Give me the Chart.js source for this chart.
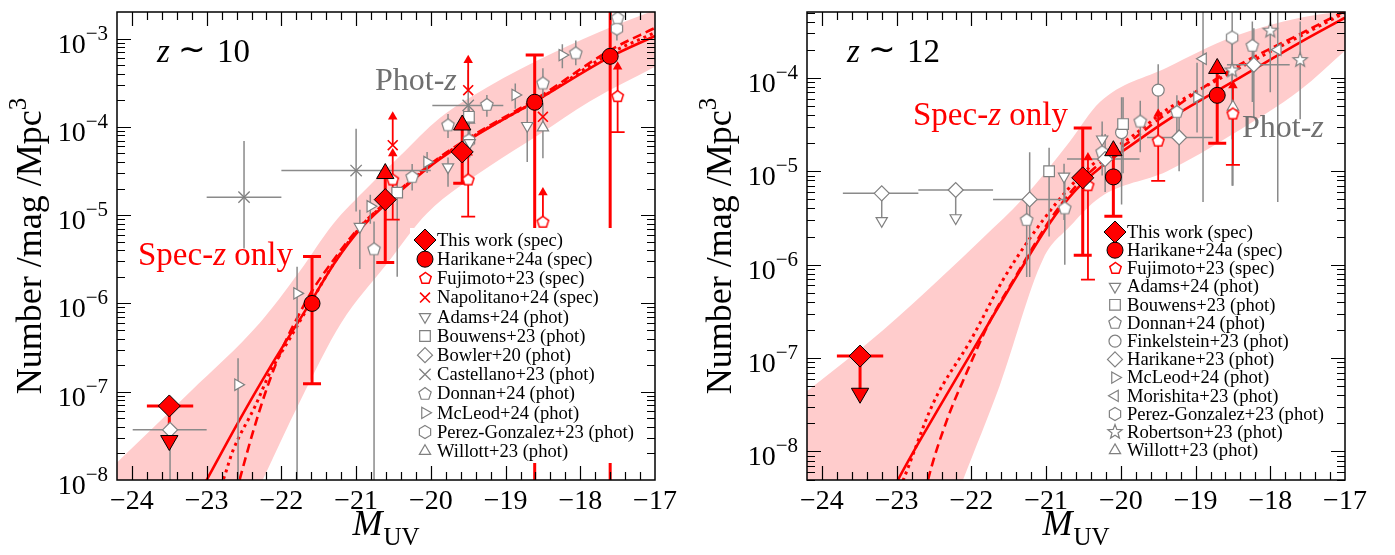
<!DOCTYPE html>
<html><head><meta charset="utf-8">
<script src="https://cdn.jsdelivr.net/npm/chart.js@4/dist/chart.umd.min.js"></script>
<style>
html,body{margin:0;padding:0;background:#fff;}
#wrap{position:relative;width:1395px;height:555px;overflow:hidden;background:#fff;}
canvas{position:absolute;top:0;}
#c1{left:0;} #c2{left:690px;}
</style></head><body>
<div id="wrap"><canvas id="c1" width="690" height="555"></canvas><canvas id="c2" width="705" height="555"></canvas></div>
<script>
// ================= DATA =================
const xTickVals = [-24, -23, -22, -21, -20, -19, -18, -17];
const xTickLabels = ['\u221224','\u221223','\u221222','\u221221','\u221220','\u221219','\u221218','\u221217'];
const z10_yTickExps = [-8, -7, -6, -5, -4, -3];
const z12_yTickExps = [-8, -7, -6, -5, -4];
const z10_xRange = [-24.2, -17];
const z10_yRange = [1e-8, 2.0e-3];
const z12_xRange = [-24.2, -17];
const z12_yRange = [4.95e-9, 5.07e-4];

// ---- z~10 fits: [M_UV, phi]
const z10_bandUp = [[-24.2,1.58e-8],[-23.22,1.0e-7],[-22.29,6.0e-7],[-21.75,2.34e-6],[-21.31,7.9e-6],[-20.85,2.04e-5],[-20.41,4.7e-5],[-19.88,1.26e-4],[-19.25,2.8e-4],[-18.36,6.9e-4],[-17.56,1.38e-3],[-17.0,2.1e-3]];
const z10_bandLo = [[-24.2,1e-11],[-22.8,1e-9],[-22.25,1.0e-8],[-21.75,7.8e-8],[-21.20,6.0e-7],[-20.59,2.8e-6],[-20.05,1.05e-5],[-19.21,3.6e-5],[-18.54,8.3e-5],[-17.87,1.95e-4],[-17.0,4.8e-4]];
const z10_solid = [[-23.2,4.9e-9],[-23.0,1.0e-8],[-22.58,4.47e-8],[-22.15,1.9e-7],[-21.62,1.0e-6],[-21.28,2.95e-6],[-20.95,6.9e-6],[-20.61,1.32e-5],[-19.97,3.8e-5],[-19.48,7.2e-5],[-18.58,2.0e-4],[-17.60,6.2e-4],[-17.0,1.07e-3]];
const z10_dashed = [[-22.70,3.5e-9],[-22.56,1.0e-8],[-22.38,3.5e-8],[-22.19,1.12e-7],[-21.98,3.2e-7],[-21.75,7.9e-7],[-21.62,1.26e-6],[-21.28,3.3e-6],[-20.95,7.4e-6],[-20.61,1.38e-5],[-19.97,4.0e-5],[-19.48,7.6e-5],[-18.58,2.1e-4],[-17.60,7.4e-4],[-17.0,1.32e-3]];
const z10_dotted = [[-22.90,6.3e-9],[-22.78,1.0e-8],[-22.65,2.14e-8],[-22.35,6.9e-8],[-22.15,1.66e-7],[-21.88,4.1e-7],[-21.62,9.8e-7],[-21.28,3.0e-6],[-20.95,7.2e-6],[-20.61,1.35e-5],[-19.97,3.9e-5],[-19.48,7.4e-5],[-18.58,2.0e-4],[-17.60,6.8e-4],[-17.0,1.17e-3]];

// ---- z~10 points: [M, phi, phiLo, phiHi, Mlo, Mhi] ; limits: [M, phiFrom, phiTo]
const z10_thisWork = [[-23.50,6.9e-8,null,null,-23.80,-23.18],[-20.61,1.5e-5,2.9e-6,null],[-19.58,5.2e-5,2.3e-5,null]];
const z10_thisWorkLim = [[-23.50,6.9e-8,2.8e-8],[-20.61,1.5e-5,2.96e-5],[-19.58,5.2e-5,1.05e-4]];
const z10_harikane24 = [[-21.59,1.0e-6,1.23e-7,3.4e-6],[-18.61,1.9e-4,1e-12,6.5e-4],[-17.60,6.3e-4,1e-12,1e-1]];
const z10_fujimoto = [[-20.51,2.5e-5,8.9e-6,null],[-19.50,2.5e-5,9.6e-6,null],[-18.50,8.3e-6,null,null],[-17.50,2.2e-4,8.7e-5,null]];
const z10_fujimotoLim = [[-20.51,2.5e-5,5.0e-5],[-19.50,2.5e-5,5.1e-5],[-18.50,8.3e-6,1.8e-5],[-17.50,2.2e-4,4.8e-4]];
const z10_napolitano = [[-20.51,6.2e-5],[-19.50,2.6e-4],[-18.50,1.3e-4]];
const z10_napolitanoLim = [[-20.51,6.2e-5,1.3e-4],[-19.50,2.6e-4,5.7e-4]];
const z10_adams = [[-20.95,7.4e-6,2.45e-6,1.15e-5],[-19.77,3.5e-5,2.1e-5,4.5e-5],[-19.48,6.6e-5,4.5e-5,9.5e-5],[-18.71,1.03e-4,4.0e-5,1.7e-4]];
const z10_bouwens = [[-20.45,1.8e-5,2.0e-6,2.6e-5],[-19.49,1.3e-4,8.0e-5,1.8e-4]];
const z10_bowler = [[-23.49,3.7e-8,1e-12,null,-23.99,-23.0]];
const z10_castellano = [[-22.50,1.6e-5,4.2e-6,6.9e-5,-23.0,-22.0],[-21.00,3.2e-5,1.1e-5,9.5e-5,-22.0,-20.0],[-19.50,1.75e-4,7.2e-5,4.4e-4,-19.98,-19.03]];
const z10_donnan = [[-20.76,4.1e-6,1e-12,8.5e-6],[-20.25,2.7e-5,1.9e-5,3.8e-5],[-19.77,1.04e-4,7.5e-5,1.4e-4],[-19.25,1.77e-4,1.3e-4,2.3e-4],[-18.50,3.1e-4,2.2e-4,4.6e-4],[-18.06,6.8e-4,5.0e-4,9.5e-4],[-17.50,1.7e-3,1.3e-3,2.5e-3]];
const z10_mcleod = [[-22.58,1.2e-7,1e-12,2.4e-7],[-21.79,1.3e-6,1e-12,2.6e-6],[-20.81,1.26e-5,8.0e-6,1.7e-5],[-20.05,4.0e-5,3.0e-5,5.2e-5],[-18.87,2.3e-4,1.6e-4,3.1e-4],[-18.24,6.5e-4,4.6e-4,8.6e-4]];
const z10_perez = [[-19.49,7.0e-5,5.0e-5,1.0e-4],[-17.51,1.3e-3,9.5e-4,1.8e-3]];
const z10_willott = [[-19.49,1.2e-4,7.0e-5,1.6e-4],[-18.50,9.8e-5,4.4e-5,1.86e-4]];

// ---- z~12 fits
const z12_bandUp = [[-24.2,4.4e-8],[-23.18,2.0e-7],[-22.42,7.1e-7],[-21.84,1.95e-6],[-21.31,5.1e-6],[-20.68,2.1e-5],[-20.28,5.5e-5],[-19.38,1.29e-4],[-18.50,2.75e-4],[-17.60,4.4e-4],[-17.0,5.2e-4]];
const z12_bandLo = [[-24.2,1e-11],[-22.9,1e-10],[-22.11,5.0e-9],[-21.62,5.1e-8],[-21.04,1.15e-6],[-20.68,2.57e-6],[-20.28,5.25e-6],[-19.38,1.0e-5],[-18.50,2.5e-5],[-17.60,7.4e-5],[-17.0,1.95e-4]];
const z12_solid = [[-23.2,2.2e-9],[-22.98,5.0e-9],[-22.46,2.7e-8],[-22.02,1.07e-7],[-21.39,7.6e-7],[-20.95,2.8e-6],[-20.61,6.2e-6],[-20.24,1.15e-5],[-19.84,1.95e-5],[-19.38,3.5e-5],[-18.50,9.1e-5],[-17.60,2.4e-4],[-17.0,4.4e-4]];
const z12_dashed = [[-22.70,1.8e-9],[-22.58,5.0e-9],[-22.33,2.14e-8],[-22.06,7.1e-8],[-21.75,2.5e-7],[-21.39,7.9e-7],[-20.95,3.0e-6],[-20.61,6.8e-6],[-20.24,1.29e-5],[-19.84,2.2e-5],[-19.38,4.2e-5],[-18.50,1.26e-4],[-17.60,2.95e-4],[-17.0,5.2e-4]];
const z12_dotted = [[-23.10,2.2e-9],[-22.91,5.0e-9],[-22.51,3.3e-8],[-22.0,1.6e-7],[-21.58,6.8e-7],[-21.22,1.9e-6],[-20.86,4.6e-6],[-20.55,8.8e-6],[-20.24,1.45e-5],[-19.84,2.4e-5],[-19.38,4.6e-5],[-18.50,1.17e-4],[-17.60,2.8e-4],[-17.0,5.0e-4]];

// ---- z~12 points
const z12_thisWork = [[-23.49,1.05e-7,null,null,-23.80,-23.18],[-20.51,8.5e-6,1.26e-6,2.9e-5]];
const z12_thisWorkLim = [[-23.49,1.05e-7,4.2e-8]];
const z12_harikane24 = [[-20.10,8.7e-6,3.3e-6,null],[-18.71,6.5e-5,2.0e-5,null]];
const z12_harikane24Lim = [[-20.10,8.7e-6,1.66e-5],[-18.71,6.5e-5,1.26e-4]];
const z12_fujimoto = [[-20.44,7.0e-6,6.9e-7,null],[-19.50,2.1e-5,7.9e-6,null],[-18.50,4.1e-5,1.17e-5,null]];
const z12_fujimotoLim = [[-20.44,7.0e-6,1.4e-5],[-19.50,2.1e-5,4.1e-5],[-18.50,4.1e-5,8.3e-5]];
const z12_harikane23 = [[-23.20,5.8e-6,null,null,-23.72,-22.71],[-22.21,6.3e-6,null,null,-22.71,-21.71],[-21.22,5.0e-6,7.4e-7,1.6e-5,-21.71,-20.72],[-20.21,1.35e-5,6.0e-6,2.5e-5,-20.72,-19.75],[-19.22,2.3e-5,1.0e-5,4.9e-5,-19.65,-18.77],[-18.22,1.38e-4,3.8e-5,3.4e-4,-18.58,-17.74]];
const z12_harikane23Lim = [[-23.20,5.8e-6,2.95e-6],[-22.21,6.3e-6,3.16e-6]];
const z12_adams = [[-20.76,8.8e-6,3.0e-6,1.2e-5],[-20.25,2.2e-5,1.2e-5,3.4e-5]];
const z12_bouwens = [[-20.96,1.0e-5,2.0e-6,1.78e-5],[-19.97,3.2e-5,9.5e-6,6.2e-5]];
const z12_donnan = [[-21.26,3.0e-6,7.4e-7,5.1e-6],[-20.75,4.0e-6,1.0e-6,8.9e-6],[-20.25,1.6e-5,9.0e-6,2.5e-5],[-19.74,3.4e-5,1.6e-5,5.7e-5],[-19.25,4.3e-5,2.6e-5,6.5e-5],[-18.24,2.2e-4,5.5e-5,4.0e-4]];
const z12_finkelstein = [[-19.99,2.6e-5,4.4e-6,6.2e-5],[-19.50,7.4e-5,2.2e-5,1.4e-4]];
const z12_mcleod = [[-18.98,6.2e-5,2.6e-5,1.45e-4]];
const z12_morishita = [[-18.90,1.6e-4,4.7e-6,1e-2],[-17.90,2.0e-4,4.7e-6,1e-2]];
const z12_perez = [[-18.51,2.7e-4,2.2e-5,1e-2]];
const z12_robertson = [[-18.51,1.2e-4,7.0e-6,2.4e-4],[-18.00,3.2e-4,7.0e-5,1e-2],[-17.60,1.55e-4,3.6e-5,4.0e-4]];
const z12_willott = [[-18.50,4.9e-5,7.0e-6,9.0e-5]];

const z10_legendLabels = ['This work (spec)','Harikane+24a (spec)','Fujimoto+23 (spec)','Napolitano+24 (spec)','Adams+24 (phot)','Bouwens+23 (phot)','Bowler+20 (phot)','Castellano+23 (phot)','Donnan+24 (phot)','McLeod+24 (phot)','Perez-Gonzalez+23 (phot)','Willott+23 (phot)'];
const z12_legendLabels = ['This work (spec)','Harikane+24a (spec)','Fujimoto+23 (spec)','Adams+24 (phot)','Bouwens+23 (phot)','Donnan+24 (phot)','Finkelstein+23 (phot)','Harikane+23 (phot)','McLeod+24 (phot)','Morishita+23 (phot)','Perez-Gonzalez+23 (phot)','Robertson+23 (phot)','Willott+23 (phot)'];

// ================= STYLE =================
const FONT = "'Liberation Serif','Times New Roman',Times,serif";
const RED = '#ff0000', GRAY = '#808080', GLINE = '#8a8a8a', BAND = '#ffcccc';
function fnt(s, it) { return (it ? 'italic ' : '') + s + 'px ' + FONT; }

function shapeCanvas(kind, r, fill, stroke, lw) {
  const size = Math.ceil(2 * r + 2 * lw + 2);
  const c = document.createElement('canvas'); c.width = size; c.height = size;
  const g = c.getContext('2d'); const cx = size / 2, cy = size / 2;
  g.beginPath();
  const n = kind === 'pentagon' ? 5 : kind === 'hexagon' ? 6 : 10;
  for (let i = 0; i < n; i++) {
    const a = -Math.PI / 2 + i * 2 * Math.PI / n;
    const rr = (kind === 'star' && i % 2 === 1) ? r * 0.42 : r;
    const X = cx + rr * Math.cos(a), Y = cy + rr * Math.sin(a);
    if (i) g.lineTo(X, Y); else g.moveTo(X, Y);
  }
  g.closePath(); g.fillStyle = fill; g.fill();
  g.lineWidth = lw; g.strokeStyle = stroke; g.lineJoin = 'miter'; g.stroke();
  return c;
}

const ST = {
  thisWork: {shape:'rectRot', r:11, fill:RED, stroke:'#000', lw:1},
  harikane24: {shape:'circle', r:8, fill:RED, stroke:'#000', lw:1},
  limBig: {shape:'triangle', r:10, fill:RED, stroke:'#000', lw:1},
  fujimoto: {shape:shapeCanvas('pentagon', 6, '#fff', RED, 1.5), r:6},
  napolitano: {shape:'crossRot', r:7, fill:RED, stroke:RED, lw:1.6},
  arrowRed: {shape:'triangle', r:5.5, fill:RED, stroke:RED, lw:0},
  adams: {shape:'triangle', rot:180, r:6.5, fill:'#fff', stroke:GRAY, lw:1.2},
  bouwens: {shape:'rect', r:7.5, fill:'#fff', stroke:GRAY, lw:1.2},
  bowler: {shape:'rectRot', r:7.5, fill:'#fff', stroke:GRAY, lw:1.2},
  castellano: {shape:'crossRot', r:8, fill:GRAY, stroke:GRAY, lw:1.3},
  donnan: {shape:shapeCanvas('pentagon', 6.5, '#fff', GRAY, 1.2), r:6.5},
  mcleod: {shape:'triangle', rot:90, r:6.5, fill:'#fff', stroke:GRAY, lw:1.2},
  morishita: {shape:'triangle', rot:270, r:6.5, fill:'#fff', stroke:GRAY, lw:1.2},
  perez: {shape:shapeCanvas('hexagon', 6.5, '#fff', GRAY, 1.2), r:6.5},
  finkelstein: {shape:'circle', r:6, fill:'#fff', stroke:GRAY, lw:1.2},
  robertson: {shape:shapeCanvas('star', 7.5, '#fff', GRAY, 1.2), r:7.5},
  willott: {shape:'triangle', rot:0, r:6.5, fill:'#fff', stroke:GRAY, lw:1.2},
  limGray: {shape:'triangle', r:6.5, fill:'#fff', stroke:GRAY, lw:1.2}
};
const ERR = {
  red: {color:RED, lw:3, cap:9},
  fuji: {color:RED, lw:1.8, cap:7},
  gray: {color:GLINE, lw:1.5, cap:0},
  limRed: {color:RED, lw:3},
  limThin: {color:RED, lw:1.8},
  limGray: {color:GLINE, lw:1.5}
};

// ================= BUILDERS =================
function markerDS(rows, st, err) {
  return { data: rows.map(r => ({x:r[0], y:r[1]})), showLine:false,
    pointStyle: st.shape, pointRadius: st.r, pointHoverRadius: st.r,
    pointBackgroundColor: st.fill || '#fff', pointBorderColor: st.stroke || '#000',
    pointBorderWidth: st.lw || 0, pointRotation: st.rot || 0, rows: rows, err: err };
}
function limDS(lim, st, err) {
  return { data: lim.map(r => ({x:r[0], y:r[2]})), showLine:false,
    pointStyle: st.shape, pointRadius: st.r, pointHoverRadius: st.r,
    pointBackgroundColor: st.fill, pointBorderColor: st.stroke, pointBorderWidth: st.lw,
    pointRotation: lim.map(r => r[2] < r[1] ? 180 : 0), limRows: lim, limErr: err };
}
function curveDS(pts, opt) {
  return Object.assign({ data: pts.map(p => ({x:p[0], y:p[1]})), pointRadius:0, pointHoverRadius:0,
    borderColor: RED, borderWidth: 2.6, fill:false, cubicInterpolationMode:'monotone' }, opt);
}

function drawErrors(chart) {
  const ctx = chart.ctx, a = chart.chartArea, xs = chart.scales.x, ys = chart.scales.y;
  ctx.save();
  ctx.beginPath(); ctx.rect(a.left, a.top, a.right - a.left, a.bottom - a.top); ctx.clip();
  ctx.lineCap = 'butt';
  const dss = chart.data.datasets;
  for (let i = dss.length - 1; i >= 0; i--) {
    const ds = dss[i];
    if (ds.rows && ds.err) {
      const e = ds.err; ctx.strokeStyle = e.color; ctx.lineWidth = e.lw;
      ds.rows.forEach(r => {
        const X = xs.getPixelForValue(r[0]), Y = ys.getPixelForValue(r[1]);
        ctx.beginPath();
        [r[2], r[3]].forEach(v => {
          if (v == null) return;
          const Yv = ys.getPixelForValue(v);
          ctx.moveTo(X, Y); ctx.lineTo(X, Yv);
          if (e.cap) { ctx.moveTo(X - e.cap, Yv); ctx.lineTo(X + e.cap, Yv); }
        });
        if (r[4] != null && r[5] != null) {
          ctx.moveTo(xs.getPixelForValue(r[4]), Y); ctx.lineTo(xs.getPixelForValue(r[5]), Y);
        }
        ctx.stroke();
      });
    }
    if (ds.limRows && ds.limErr) {
      const e = ds.limErr; ctx.strokeStyle = e.color; ctx.lineWidth = e.lw;
      ds.limRows.forEach(r => {
        const X = xs.getPixelForValue(r[0]);
        ctx.beginPath(); ctx.moveTo(X, ys.getPixelForValue(r[1])); ctx.lineTo(X, ys.getPixelForValue(r[2])); ctx.stroke();
      });
    }
  }
  ctx.restore();
}

function drawMarker(ctx, st, x, y) {
  if (typeof st.shape !== 'string') {
    ctx.drawImage(st.shape, Math.round(x - st.shape.width / 2), Math.round(y - st.shape.height / 2));
    return;
  }
  const r = st.r; ctx.save(); ctx.beginPath();
  if (st.shape === 'circle') ctx.arc(x, y, r, 0, 2 * Math.PI);
  else if (st.shape === 'triangle') {
    let a = (st.rot || 0) * Math.PI / 180;
    for (let i = 0; i < 3; i++) { const X = x + Math.sin(a) * r, Y = y - Math.cos(a) * r; if (i) ctx.lineTo(X, Y); else ctx.moveTo(X, Y); a += 2 * Math.PI / 3; }
    ctx.closePath();
  } else if (st.shape === 'rect') { const s = r * Math.SQRT1_2; ctx.rect(x - s, y - s, 2 * s, 2 * s); }
  else if (st.shape === 'rectRot') { ctx.moveTo(x, y - r); ctx.lineTo(x + r, y); ctx.lineTo(x, y + r); ctx.lineTo(x - r, y); ctx.closePath(); }
  else if (st.shape === 'crossRot') { const d = r * Math.SQRT1_2; ctx.moveTo(x - d, y - d); ctx.lineTo(x + d, y + d); ctx.moveTo(x - d, y + d); ctx.lineTo(x + d, y - d); }
  if (st.shape !== 'crossRot') { ctx.fillStyle = st.fill; ctx.fill(); }
  if (st.lw > 0) { ctx.lineWidth = st.lw; ctx.strokeStyle = st.stroke; ctx.stroke(); }
  ctx.restore();
}

function drawParts(ctx, x, y, parts) {
  let cx = x;
  parts.forEach(p => {
    ctx.font = fnt(p.s, p.i); ctx.fillStyle = p.c || '#000';
    ctx.textAlign = 'left'; ctx.textBaseline = 'alphabetic';
    ctx.fillText(p.t, cx, y + (p.dy || 0));
    cx += ctx.measureText(p.t).width + (p.gap || 0);
  });
  return cx - x;
}
function partsWidth(ctx, parts) {
  let w = 0; parts.forEach(p => { ctx.font = fnt(p.s, p.i); w += ctx.measureText(p.t).width + (p.gap || 0); }); return w;
}

function makePlugin(P) {
  return {
    id: 'panel' + P.id,
    afterDatasetDraw(chart, args) {
      if (chart.data.datasets[args.index].errHook) drawErrors(chart);
    },
    afterDatasetsDraw(chart) {
      const ctx = chart.ctx, L = P.legend;
      ctx.save();
      ctx.fillStyle = '#fff'; ctx.fillRect(L.box[0], L.box[1], L.box[2], L.box[3]);
      L.labels.forEach((lab, i) => {
        const y = L.y0 + i * L.dy;
        drawMarker(ctx, L.styles[i], L.mx, y);
        ctx.font = fnt(18.6); ctx.fillStyle = '#000'; ctx.textAlign = 'left'; ctx.textBaseline = 'middle';
        ctx.fillText(lab, L.tx, y + 1);
      });
      ctx.restore();
    },
    afterDraw(chart) {
      const ctx = chart.ctx, a = chart.chartArea, xs = chart.scales.x, ys = chart.scales.y;
      ctx.save();
      // frame
      ctx.strokeStyle = '#000'; ctx.lineWidth = 1.5;
      ctx.strokeRect(a.left, a.top, a.right - a.left, a.bottom - a.top);
      // ticks
      ctx.lineWidth = 1.2; ctx.beginPath();
      const MAJ = 14, MIN = 8;
      for (let k = Math.ceil(xs.min * 5); k <= Math.floor(xs.max * 5); k++) {
        const v = k / 5; if (Math.abs(v - xs.min) < 1e-6 || Math.abs(v - xs.max) < 1e-6) continue;
        const X = Math.round(xs.getPixelForValue(v)) + 0.5, len = (k % 5 === 0) ? MAJ : MIN;
        ctx.moveTo(X, a.bottom); ctx.lineTo(X, a.bottom - len);
        ctx.moveTo(X, a.top); ctx.lineTo(X, a.top + len);
      }
      const e0 = Math.floor(Math.log10(ys.min)), e1 = Math.ceil(Math.log10(ys.max));
      for (let e = e0; e <= e1; e++) for (let m = 1; m <= 9; m++) {
        const v = m * Math.pow(10, e); if (v <= ys.min * 1.0001 || v >= ys.max * 0.9999) continue;
        const Y = Math.round(ys.getPixelForValue(v)) + 0.5, len = m === 1 ? MAJ : MIN;
        ctx.moveTo(a.left, Y); ctx.lineTo(a.left + len, Y);
        ctx.moveTo(a.right, Y); ctx.lineTo(a.right - len, Y);
      }
      ctx.stroke();
      // x tick labels
      ctx.fillStyle = '#000'; ctx.font = fnt(28); ctx.textAlign = 'center'; ctx.textBaseline = 'alphabetic';
      xTickVals.forEach((v, i) => ctx.fillText(xTickLabels[i], xs.getPixelForValue(v), a.bottom + 29));
      // y tick labels
      P.yExps.forEach(e => {
        const Y = ys.getPixelForValue(Math.pow(10, e));
        const parts = [{t:'10', s:28}, {t:'\u2212' + Math.abs(e), s:21, dy:-13}];
        const w = partsWidth(ctx, parts);
        drawParts(ctx, a.left - 9 - w, Y + 14, parts);
      });
      // y title
      ctx.save(); ctx.translate(41, (a.top + a.bottom) / 2); ctx.rotate(-Math.PI / 2);
      const yt = [{t:'Number /mag /Mpc', s:36}, {t:'3', s:25, dy:-15}];
      drawParts(ctx, -partsWidth(ctx, yt) / 2, 0, yt);
      ctx.restore();
      // x title
      const xt = [{t:'M', s:36, i:true, gap:1}, {t:'UV', s:25, dy:10}];
      drawParts(ctx, (a.left + a.right) / 2 - partsWidth(ctx, xt) / 2, 535, xt);
      // panel title z ~ N
      const zx = a.left + 40;
      ctx.font = fnt(33, true); ctx.fillStyle = '#000'; ctx.textAlign = 'left'; ctx.fillText('z', zx, 62);
      ctx.font = fnt(33); ctx.textAlign = 'center'; ctx.fillText('\u223c', zx + 35, 60);
      ctx.textAlign = 'left'; ctx.fillText(P.zText, zx + 60, 62);
      // annotations
      P.notes.forEach(n => drawParts(ctx, n.x, n.y, n.parts));
      ctx.restore();
    }
  };
}

function specParts() { return [{t:'Spec-', s:33, c:RED}, {t:'z', s:33, i:true, c:RED}, {t:' only', s:33, c:RED}]; }
function photParts() { return [{t:'Phot-', s:32, c:'#707070'}, {t:'z', s:32, i:true, c:'#707070'}]; }

function buildChart(id, W, xr, yr, datasets, P) {
  return new Chart(document.getElementById(id), {
    type: 'line',
    data: { datasets: datasets },
    options: {
      responsive: false, animation: false, events: [], devicePixelRatio: 1,
      layout: { padding: { left: 117, right: W - 655, top: 4, bottom: 75 } },
      scales: {
        x: { type: 'linear', min: xr[0], max: xr[1], display: false },
        y: { type: 'logarithmic', min: yr[0], max: yr[1], display: false }
      },
      plugins: { legend: { display: false }, tooltip: { enabled: false } }
    },
    plugins: [makePlugin(P)]
  });
}

// ================= PANEL z~10 =================
const ds10 = [
  markerDS(z10_thisWork, ST.thisWork, ERR.red),
  limDS(z10_thisWorkLim, ST.limBig, ERR.limRed),
  markerDS(z10_harikane24, ST.harikane24, ERR.red),
  markerDS(z10_fujimoto, ST.fujimoto, ERR.fuji),
  limDS(z10_fujimotoLim, ST.arrowRed, ERR.limThin),
  markerDS(z10_napolitano, ST.napolitano, ERR.fuji),
  limDS(z10_napolitanoLim, ST.arrowRed, ERR.limThin),
  markerDS(z10_castellano, ST.castellano, ERR.gray),
  markerDS(z10_bowler, ST.bowler, ERR.gray),
  markerDS(z10_adams, ST.adams, ERR.gray),
  markerDS(z10_bouwens, ST.bouwens, ERR.gray),
  markerDS(z10_donnan, ST.donnan, ERR.gray),
  markerDS(z10_mcleod, ST.mcleod, ERR.gray),
  markerDS(z10_perez, ST.perez, ERR.gray),
  markerDS(z10_willott, ST.willott, ERR.gray),
  curveDS(z10_solid, { errHook: true }),
  curveDS(z10_dashed, { borderDash: [9, 5] }),
  curveDS(z10_dotted, { borderDash: [3, 4], borderWidth: 3 }),
  curveDS(z10_bandUp, { borderWidth: 0, borderColor: 'rgba(0,0,0,0)', backgroundColor: BAND, fill: '+1' }),
  curveDS(z10_bandLo, { borderWidth: 0, borderColor: 'rgba(0,0,0,0)' })
];
buildChart('c1', 690, z10_xRange, z10_yRange, ds10, {
  id: 10, yExps: z10_yTickExps, zText: '10',
  legend: { box: [410, 228, 240, 235], mx: 425, tx: 437, y0: 240, dy: 19.2, labels: z10_legendLabels,
    styles: [ST.thisWork, ST.harikane24, ST.fujimoto, ST.napolitano, ST.adams, ST.bouwens, ST.bowler, ST.castellano, ST.donnan, ST.mcleod, ST.perez, ST.willott] },
  notes: [ {x:138, y:265, parts: specParts()}, {x:375, y:90, parts: photParts()} ]
});

// ================= PANEL z~12 =================
const ds12 = [
  markerDS(z12_thisWork, ST.thisWork, ERR.red),
  limDS(z12_thisWorkLim, ST.limBig, ERR.limRed),
  markerDS(z12_harikane24, ST.harikane24, ERR.red),
  limDS(z12_harikane24Lim, ST.limBig, ERR.limRed),
  markerDS(z12_fujimoto, ST.fujimoto, ERR.fuji),
  limDS(z12_fujimotoLim, ST.arrowRed, ERR.limThin),
  markerDS(z12_harikane23, ST.bowler, ERR.gray),
  limDS(z12_harikane23Lim, ST.limGray, ERR.limGray),
  markerDS(z12_adams, ST.adams, ERR.gray),
  markerDS(z12_bouwens, ST.bouwens, ERR.gray),
  markerDS(z12_donnan, ST.donnan, ERR.gray),
  markerDS(z12_finkelstein, ST.finkelstein, ERR.gray),
  markerDS(z12_mcleod, ST.mcleod, ERR.gray),
  markerDS(z12_morishita, ST.morishita, ERR.gray),
  markerDS(z12_perez, ST.perez, ERR.gray),
  markerDS(z12_robertson, ST.robertson, ERR.gray),
  markerDS(z12_willott, ST.willott, ERR.gray),
  curveDS(z12_solid, { errHook: true }),
  curveDS(z12_dashed, { borderDash: [9, 5] }),
  curveDS(z12_dotted, { borderDash: [3, 4], borderWidth: 3 }),
  curveDS(z12_bandUp, { borderWidth: 0, borderColor: 'rgba(0,0,0,0)', backgroundColor: BAND, fill: '+1' }),
  curveDS(z12_bandLo, { borderWidth: 0, borderColor: 'rgba(0,0,0,0)' })
];
buildChart('c2', 705, z12_xRange, z12_yRange, ds12, {
  id: 12, yExps: z12_yTickExps, zText: '12',
  legend: { box: [1100 - 690, 220, 240, 243], mx: 1115 - 690, tx: 1127 - 690, y0: 232, dy: 18.2, labels: z12_legendLabels,
    styles: [ST.thisWork, ST.harikane24, ST.fujimoto, ST.adams, ST.bouwens, ST.donnan, ST.finkelstein, ST.bowler, ST.mcleod, ST.morishita, ST.perez, ST.robertson, ST.willott] },
  notes: [ {x:913 - 690, y:125, parts: specParts()}, {x:1242 - 690, y:137, parts: photParts()} ]
});
</script>
</body></html>
